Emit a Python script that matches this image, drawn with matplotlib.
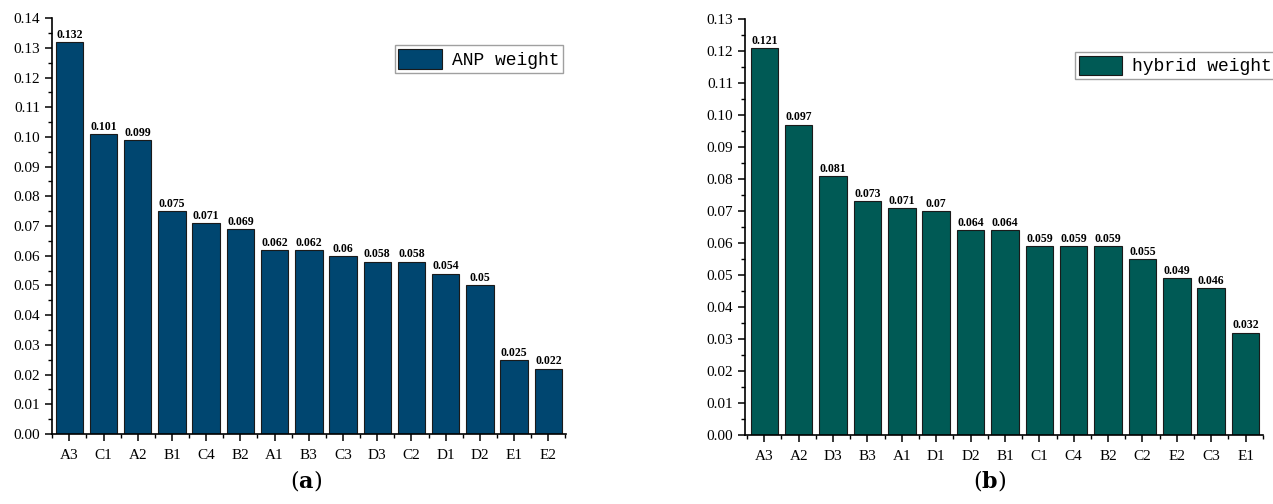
import matplotlib.pyplot as plt
from matplotlib.ticker import MultipleLocator, FormatStrFormatter

anp_labels = ["A3", "C1", "A2", "B1", "C4", "B2", "A1", "B3", "C3", "D3", "C2", "D1", "D2", "E1", "E2"]
anp_values = [0.132, 0.101, 0.099, 0.075, 0.071, 0.069, 0.062, 0.062, 0.06, 0.058, 0.058, 0.054, 0.05, 0.025, 0.022]
anp_text = ["0.132", "0.101", "0.099", "0.075", "0.071", "0.069", "0.062", "0.062", "0.06", "0.058", "0.058", "0.054", "0.05", "0.025", "0.022"]

hyb_labels = ["A3", "A2", "D3", "B3", "A1", "D1", "D2", "B1", "C1", "C4", "B2", "C2", "E2", "C3", "E1"]
hyb_values = [0.121, 0.097, 0.081, 0.073, 0.071, 0.07, 0.064, 0.064, 0.059, 0.059, 0.059, 0.055, 0.049, 0.046, 0.032]
hyb_text = ["0.121", "0.097", "0.081", "0.073", "0.071", "0.07", "0.064", "0.064", "0.059", "0.059", "0.059", "0.055", "0.049", "0.046", "0.032"]

plt.rcParams['font.family'] = ['Liberation Serif', 'DejaVu Serif']
plt.rcParams['mathtext.fontset'] = 'dejavuserif'

fig = plt.figure(figsize=(12.73, 5.04), dpi=100)


def draw_panel(rect, labels, values, texts, color, ymax, legend_name, legend_anchor, xlim):
    ax = fig.add_axes(rect)
    x = list(range(len(labels)))
    ax.bar(x, values, width=0.8, color=color, edgecolor="#1a1a1a", linewidth=0.8,
           label=legend_name, zorder=2)
    for xi, v, t in zip(x, values, texts):
        ax.text(xi, v + 0.0004, t, ha="center", va="bottom", fontsize=8.5, fontweight="bold")
    ax.set_xlim(*xlim)
    ax.set_ylim(0, ymax)
    ax.set_xticks(x)
    ax.set_xticklabels(labels)
    ax.xaxis.set_minor_locator(MultipleLocator(1, offset=0.5))
    ax.yaxis.set_major_locator(MultipleLocator(0.01))
    ax.yaxis.set_minor_locator(MultipleLocator(0.005))
    ax.yaxis.set_major_formatter(FormatStrFormatter("%.2f"))
    for s in ["top", "right"]:
        ax.spines[s].set_visible(False)
    for s in ["left", "bottom"]:
        ax.spines[s].set_linewidth(1.2)
    ax.tick_params(axis="both", which="major", direction="out", length=5, width=1.1, labelsize=11)
    ax.tick_params(axis="both", which="minor", direction="out", length=3, width=1.0)
    ax.tick_params(axis="x", which="major", pad=6)
    leg = ax.legend(loc="center left", bbox_to_anchor=legend_anchor, bbox_transform=fig.transFigure,
                    prop={"family": ["Liberation Mono", "DejaVu Sans Mono"], "size": 13},
                    frameon=True, fancybox=False, handlelength=2.4, handleheight=1.3,
                    borderpad=0.2, handletextpad=0.55, borderaxespad=0)
    leg.get_frame().set_edgecolor("#888888")
    leg.get_frame().set_linewidth(1.0)
    return ax


draw_panel([0.041, 0.139, 0.404, 0.825], anp_labels, anp_values, anp_text, "#004670",
           0.14, "ANP weight", (0.310, 0.883), (-0.5, 14.53))
draw_panel([0.585, 0.137, 0.407, 0.825], hyb_labels, hyb_values, hyb_text, "#005a55",
           0.13, "hybrid weight", (0.8445, 0.870), (-0.57, 14.5))

fig.text(0.2405, 0.022, r"$\mathrm{(}\mathbf{a}\mathrm{)}$", ha="center", va="bottom", fontsize=16)
fig.text(0.7775, 0.022, r"$\mathrm{(}\mathbf{b}\mathrm{)}$", ha="center", va="bottom", fontsize=16)

fig.savefig("out.png", dpi=100)
